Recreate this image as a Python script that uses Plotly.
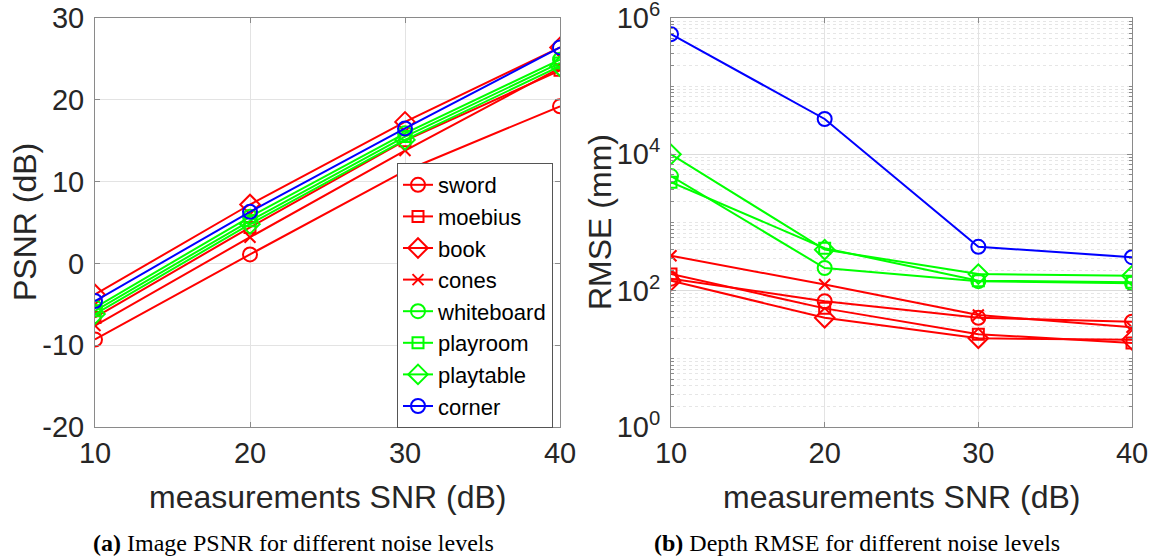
import plotly.graph_objects as go

snr = [10, 20, 30, 40]
names = ["sword", "moebius", "book", "cones", "whiteboard", "playroom", "playtable", "corner"]
colors = ["#ff0000", "#ff0000", "#ff0000", "#ff0000", "#00ff00", "#00ff00", "#00ff00", "#0000ff"]
symbols = ["circle-open", "square-open", "diamond-open", "x-thin-open",
           "circle-open", "square-open", "diamond-open", "circle-open"]
sizes = [14, 11, 15, 11, 14, 11, 15, 14]

# Image PSNR (dB)
psnr_sword = [-9.3, 1.1, 11.3, 19.2]
psnr_moebius = [-6.6, 4.4, 15.0, 23.6]
psnr_book = [-3.8, 7.2, 17.3, 26.4]
psnr_cones = [-7.6, 3.2, 13.8, 23.9]
psnr_whiteboard = [-5.4, 5.7, 15.9, 24.9]
psnr_playroom = [-5.8, 5.2, 15.5, 24.5]
psnr_playtable = [-6.2, 4.8, 15.1, 24.1]
psnr_corner = [-4.6, 6.3, 16.5, 26.4]

# Depth RMSE (mm)
rmse_sword = [150, 70, 40, 35]
rmse_moebius = [175, 55, 23, 17]
rmse_book = [140, 40, 20, 19]
rmse_cones = [325, 123, 44, 29]
rmse_whiteboard = [4800, 215, 138, 128]
rmse_playroom = [3900, 420, 140, 133]
rmse_playtable = [10000, 400, 175, 165]
rmse_corner = [580000, 33000, 440, 310]

psnr = [psnr_sword, psnr_moebius, psnr_book, psnr_cones,
        psnr_whiteboard, psnr_playroom, psnr_playtable, psnr_corner]
rmse = [rmse_sword, rmse_moebius, rmse_book, rmse_cones,
        rmse_whiteboard, rmse_playroom, rmse_playtable, rmse_corner]

psnr_ticks = [-20, -10, 0, 10, 20, 30]
psnr_ticktext = ["-20", "-10", "0", "10", "20", "30"]
rmse_ticks = [1, 100, 10000, 1000000]
rmse_ticktext = ["10<sup>0</sup>", "10<sup>2</sup>", "10<sup>4</sup>", "10<sup>6</sup>"]
snr_ticks = [10, 20, 30, 40]

W, H = 1161, 559


def px(x):
    return x / W


def py(y):
    return (H - y) / H


fig = go.Figure()

for i, n in enumerate(names):
    fig.add_trace(go.Scatter(
        x=snr, y=psnr[i], name=n, mode="lines+markers",
        line=dict(color=colors[i], width=2),
        marker=dict(symbol=symbols[i], size=sizes[i], color=colors[i],
                    line=dict(width=2, color=colors[i])),
        xaxis="x", yaxis="y", legendgroup=n, showlegend=True))
for i, n in enumerate(names):
    fig.add_trace(go.Scatter(
        x=snr, y=rmse[i], name=n, mode="lines+markers",
        line=dict(color=colors[i], width=2),
        marker=dict(symbol=symbols[i], size=sizes[i], color=colors[i],
                    line=dict(width=2, color=colors[i])),
        xaxis="x2", yaxis="y2", legendgroup=n, showlegend=False))

tickfont = dict(family="Liberation Sans, Arial, sans-serif", size=29, color="#262626")
axcol = "#8a8a8a"
gridcol = "#e3e3e3"

ydom = [py(427), py(18)]
common_x = dict(range=[10, 40], tickvals=snr_ticks, tickfont=tickfont,
                showline=True, linecolor=axcol, linewidth=1, mirror="ticks",
                ticks="inside", ticklen=5, tickcolor=axcol, automargin=False,
                ticklabeloverflow="allow",
                showgrid=True, gridcolor=gridcol, zeroline=False)

fig.update_layout(
    width=W, height=H,
    margin=dict(l=0, r=0, t=0, b=0, autoexpand=False),
    paper_bgcolor="white", plot_bgcolor="white",
    showlegend=True,
    xaxis=dict(domain=[px(95), px(560)], anchor="y", **common_x),
    yaxis=dict(domain=ydom, anchor="x", range=[-20, 30], tickvals=psnr_ticks,
               ticktext=psnr_ticktext, automargin=False, ticklabeloverflow="allow",
               tickfont=tickfont, showline=True, linecolor=axcol, linewidth=1,
               mirror="ticks", ticks="inside", ticklen=5, tickcolor=axcol,
               showgrid=True, gridcolor=gridcol, zeroline=False,
               ticklabelstandoff=4),
    xaxis2=dict(domain=[px(671), px(1132)], anchor="y2", **common_x),
    yaxis2=dict(domain=ydom, anchor="x2", type="log", range=[0, 6],
                tickvals=rmse_ticks, ticktext=rmse_ticktext, automargin=False,
                ticklabeloverflow="allow",
                tickfont=tickfont, showline=True, linecolor=axcol, linewidth=1,
                mirror="ticks", ticks="inside", ticklen=5, tickcolor=axcol,
                showgrid=True, gridcolor="#dcdcdc", zeroline=False,
                ticklabelstandoff=4,
                minor=dict(dtick="D1", showgrid=True, gridcolor="#e6e6e6",
                           griddash="dot", ticks="inside", ticklen=3,
                           tickcolor=axcol)),
    legend=dict(x=px(553), xanchor="right", y=py(428), yanchor="bottom",
                bgcolor="white", bordercolor="#555555", borderwidth=1,
                font=dict(family="Liberation Sans, Arial, sans-serif", size=22,
                          color="#000000"),
                itemwidth=30, tracegroupgap=0),
)

title_font = dict(family="Liberation Sans, Arial, sans-serif", size=32, color="#262626")
cap_font = dict(family="Liberation Serif, Times New Roman, serif", size=24, color="#000000")

annos = [
    dict(text="measurements SNR (dB)", x=px((95 + 560) / 2), y=py(497), font=title_font),
    dict(text="measurements SNR (dB)", x=px((671 + 1132) / 2), y=py(497), font=title_font),
    dict(text="PSNR (dB)", x=px(25), y=py(222), textangle=-90, font=title_font),
    dict(text="RMSE (mm)", x=px(600), y=py(222), textangle=-90, font=title_font),
    dict(text="<b>(a)</b> Image PSNR for different noise levels", x=px(293),
         y=py(543), font=cap_font),
    dict(text="<b>(b)</b> Depth RMSE for different noise levels", x=px(857),
         y=py(543), font=cap_font),
]
for a in annos:
    fig.add_annotation(xref="paper", yref="paper", showarrow=False,
                       xanchor="center", yanchor="middle", **a)

fig.write_html(
    "out.html",
    config={"displayModeBar": False},
    post_script="document.body.style.margin='0px';document.body.style.overflow='hidden';",
)
